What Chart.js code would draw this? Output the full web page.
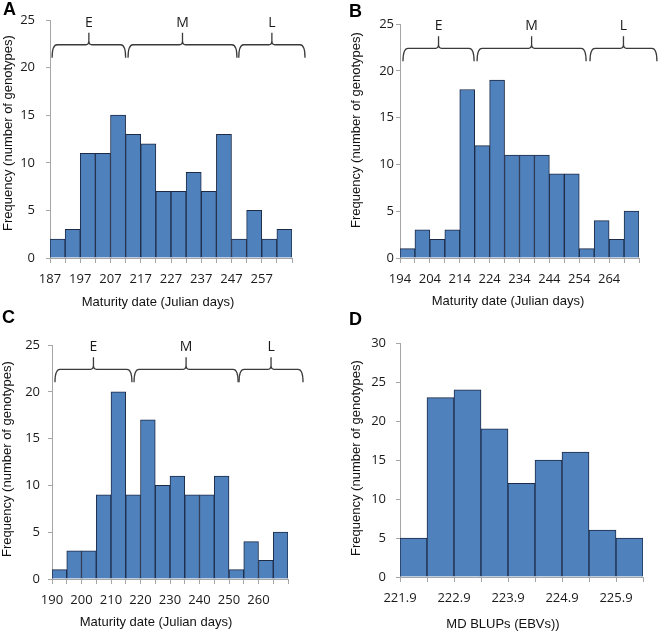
<!DOCTYPE html>
<html>
<head>
<meta charset="utf-8">
<script src="https://cdn.jsdelivr.net/npm/chart.js@4.4.1/dist/chart.umd.min.js"></script>
<style>
  body { margin: 0; background: #fff; width: 658px; height: 632px; position: relative; overflow: hidden; }
  canvas { position: absolute; }
  .tag { position: absolute; font: bold 18px "Liberation Sans", Arial, sans-serif; color: #000; line-height: 18px; }
</style>
</head>
<body>
<canvas id="chartA" width="329" height="310" style="left:0;top:0"></canvas>
<canvas id="chartB" width="329" height="310" style="left:329px;top:0"></canvas>
<canvas id="chartC" width="329" height="322" style="left:0;top:310px"></canvas>
<canvas id="chartD" width="329" height="322" style="left:329px;top:310px"></canvas>
<div class="tag" style="left:3px;top:0px">A</div>
<div class="tag" style="left:349px;top:2px">B</div>
<div class="tag" style="left:2px;top:308px">C</div>
<div class="tag" style="left:349px;top:310px">D</div>
<script>
// histogram bins (start of first bin, bin width) and counts
const aBinStart = 187, aBinWidth = 5;
const aCounts = [2, 3, 11, 11, 15, 13, 12, 7, 7, 9, 7, 13, 2, 5, 2, 3];
const aTickLabels = ['187', '197', '207', '217', '227', '237', '247', '257'];

const bBinStart = 194, bBinWidth = 5;
const bCounts = [1, 3, 2, 3, 18, 12, 19, 11, 11, 11, 9, 9, 1, 4, 2, 5];
const bTickLabels = ['194', '204', '214', '224', '234', '244', '254', '264'];

const cBinStart = 190, cBinWidth = 5;
const cCounts = [1, 3, 3, 9, 20, 9, 17, 10, 11, 9, 9, 11, 1, 4, 2, 5];
const cTickLabels = ['190', '200', '210', '220', '230', '240', '250', '260'];

const dBinStart = 221.9, dBinWidth = 0.5;
const dCounts = [5, 23, 24, 19, 12, 15, 16, 6, 5];
const dTickLabels = ['221.9', '222.9', '223.9', '224.9', '225.9'];

// early / mid / late brackets, in Julian days
const groupNames = ['E', 'M', 'L'];
const aGroups = [[187.7, 212.0], [212.8, 248.8], [249.4, 271.3]];
const bGroups = [[195.0, 218.8], [219.8, 256.3], [257.6, 280.0]];
const cGroups = [[191.0, 217.1], [217.8, 253.1], [253.4, 275.1]];
const groupLevel = 22.4;

const xTitleDays = 'Maturity date (Julian days)';
const xTitleBlup = 'MD BLUPs (EBVs))';
const yTitle = 'Frequency (number of genotypes)';

Chart.defaults.font.family = '"Open Sans", sans-serif';
Chart.defaults.color = '#1a1a1a';

const axisGrey = '#a6a6a6';

const extras = {
  id: 'extras',
  afterDraw(chart, args, o) {
    const ctx = chart.ctx;
    const xs = chart.scales.x, ys = chart.scales.y;
    ctx.save();
    if (o.groups) {
      const yH = ys.getPixelForValue(groupLevel);
      ctx.strokeStyle = '#3a3a3a';
      ctx.lineWidth = 1.3;
      ctx.fillStyle = '#1a1a1a';
      ctx.font = '14px "Open Sans", sans-serif';
      ctx.textAlign = 'center';
      ctx.textBaseline = 'middle';
      o.groups.forEach(([a, b], k) => {
        const x0 = xs.getPixelForValue(a), x1 = xs.getPixelForValue(b), xm = (x0 + x1) / 2;
        ctx.beginPath();
        ctx.moveTo(x0, yH + 13);
        ctx.quadraticCurveTo(x0, yH, x0 + 5, yH);
        ctx.lineTo(xm - 3, yH);
        ctx.quadraticCurveTo(xm, yH, xm, yH - 4);
        ctx.lineTo(xm, yH - 12);
        ctx.moveTo(xm, yH - 4);
        ctx.quadraticCurveTo(xm, yH, xm + 3, yH);
        ctx.lineTo(x1 - 5, yH);
        ctx.quadraticCurveTo(x1, yH, x1, yH + 13);
        ctx.stroke();
        ctx.fillText(groupNames[k], xm, yH - 22);
      });
    }
    ctx.fillStyle = '#111';
    ctx.font = '13px "Liberation Sans", Arial, sans-serif';
    ctx.textAlign = 'center';
    ctx.textBaseline = 'middle';
    ctx.fillText(o.xTitle, o.xTitleAt[0], o.xTitleAt[1]);
    ctx.translate(o.yTitleAt[0], o.yTitleAt[1]);
    ctx.rotate(-Math.PI / 2);
    ctx.fillText(yTitle, 0, 0);
    ctx.restore();
  }
};

function histogram(id, p) {
  const n = p.counts.length;
  const edges = [];
  for (let i = 0; i <= n; i++) edges.push(p.start + i * p.width);
  const canvas = document.getElementById(id);
  new Chart(canvas.getContext('2d'), {
    type: 'bar',
    data: {
      datasets: [{
        data: p.counts.map((v, i) => ({ x: p.start + (i + 0.5) * p.width, y: v })),
        backgroundColor: '#4f81bd',
        borderColor: '#1d2b47',
        borderWidth: 1,
        borderSkipped: 'bottom',
        barPercentage: 1,
        categoryPercentage: 1
      }]
    },
    options: {
      responsive: false,
      animation: false,
      layout: { padding: { left: 0, top: p.area[1], right: canvas.width - p.area[2], bottom: 0 } },
      plugins: {
        legend: { display: false },
        tooltip: { enabled: false },
        extras: { groups: p.groups, xTitle: p.xTitle, xTitleAt: p.xTitleAt, yTitleAt: p.yTitleAt }
      },
      scales: {
        x: {
          type: 'linear',
          min: edges[0],
          max: edges[n],
          offset: false,
          afterBuildTicks: s => { s.ticks = edges.map(v => ({ value: v })); },
          ticks: {
            autoSkip: false,
            maxRotation: 0,
            padding: 8,
            font: { size: 13 },
            callback: (v, i) => (i % 2 === 0 && p.tickLabels[i / 2]) || ''
          },
          grid: { drawOnChartArea: false, tickLength: 5, color: axisGrey, offset: false },
          border: { color: axisGrey },
          afterFit: s => { s.height = canvas.height - p.area[3]; }
        },
        y: {
          min: 0,
          max: p.yMax,
          ticks: { stepSize: 5, padding: p.yPad, font: { size: 13 } },
          grid: { drawOnChartArea: false, tickLength: 4, color: axisGrey },
          border: { color: axisGrey },
          afterFit: s => { s.width = p.area[0]; }
        }
      }
    },
    plugins: [extras]
  });
}

histogram('chartA', {
  start: aBinStart, width: aBinWidth, counts: aCounts, tickLabels: aTickLabels, yMax: 25,
  groups: aGroups, area: [50, 20, 292, 258], yPad: 11,
  xTitle: xTitleDays, xTitleAt: [158, 302], yTitleAt: [8, 133]
});
histogram('chartB', {
  start: bBinStart, width: bBinWidth, counts: bCounts, tickLabels: bTickLabels, yMax: 25,
  groups: bGroups, area: [71, 24, 310, 258], yPad: 2,
  xTitle: xTitleDays, xTitleAt: [179, 301], yTitleAt: [27, 130]
});
histogram('chartC', {
  start: cBinStart, width: cBinWidth, counts: cCounts, tickLabels: cTickLabels, yMax: 25,
  groups: cGroups, area: [52, 35, 288, 269], yPad: 8,
  xTitle: xTitleDays, xTitleAt: [156, 312], yTitleAt: [7, 149]
});
histogram('chartD', {
  start: dBinStart, width: dBinWidth, counts: dCounts, tickLabels: dTickLabels, yMax: 30,
  groups: null, area: [71, 33, 314, 267], yPad: 10,
  xTitle: xTitleBlup, xTitleAt: [174, 314], yTitleAt: [27, 148]
});
</script>
</body>
</html>
